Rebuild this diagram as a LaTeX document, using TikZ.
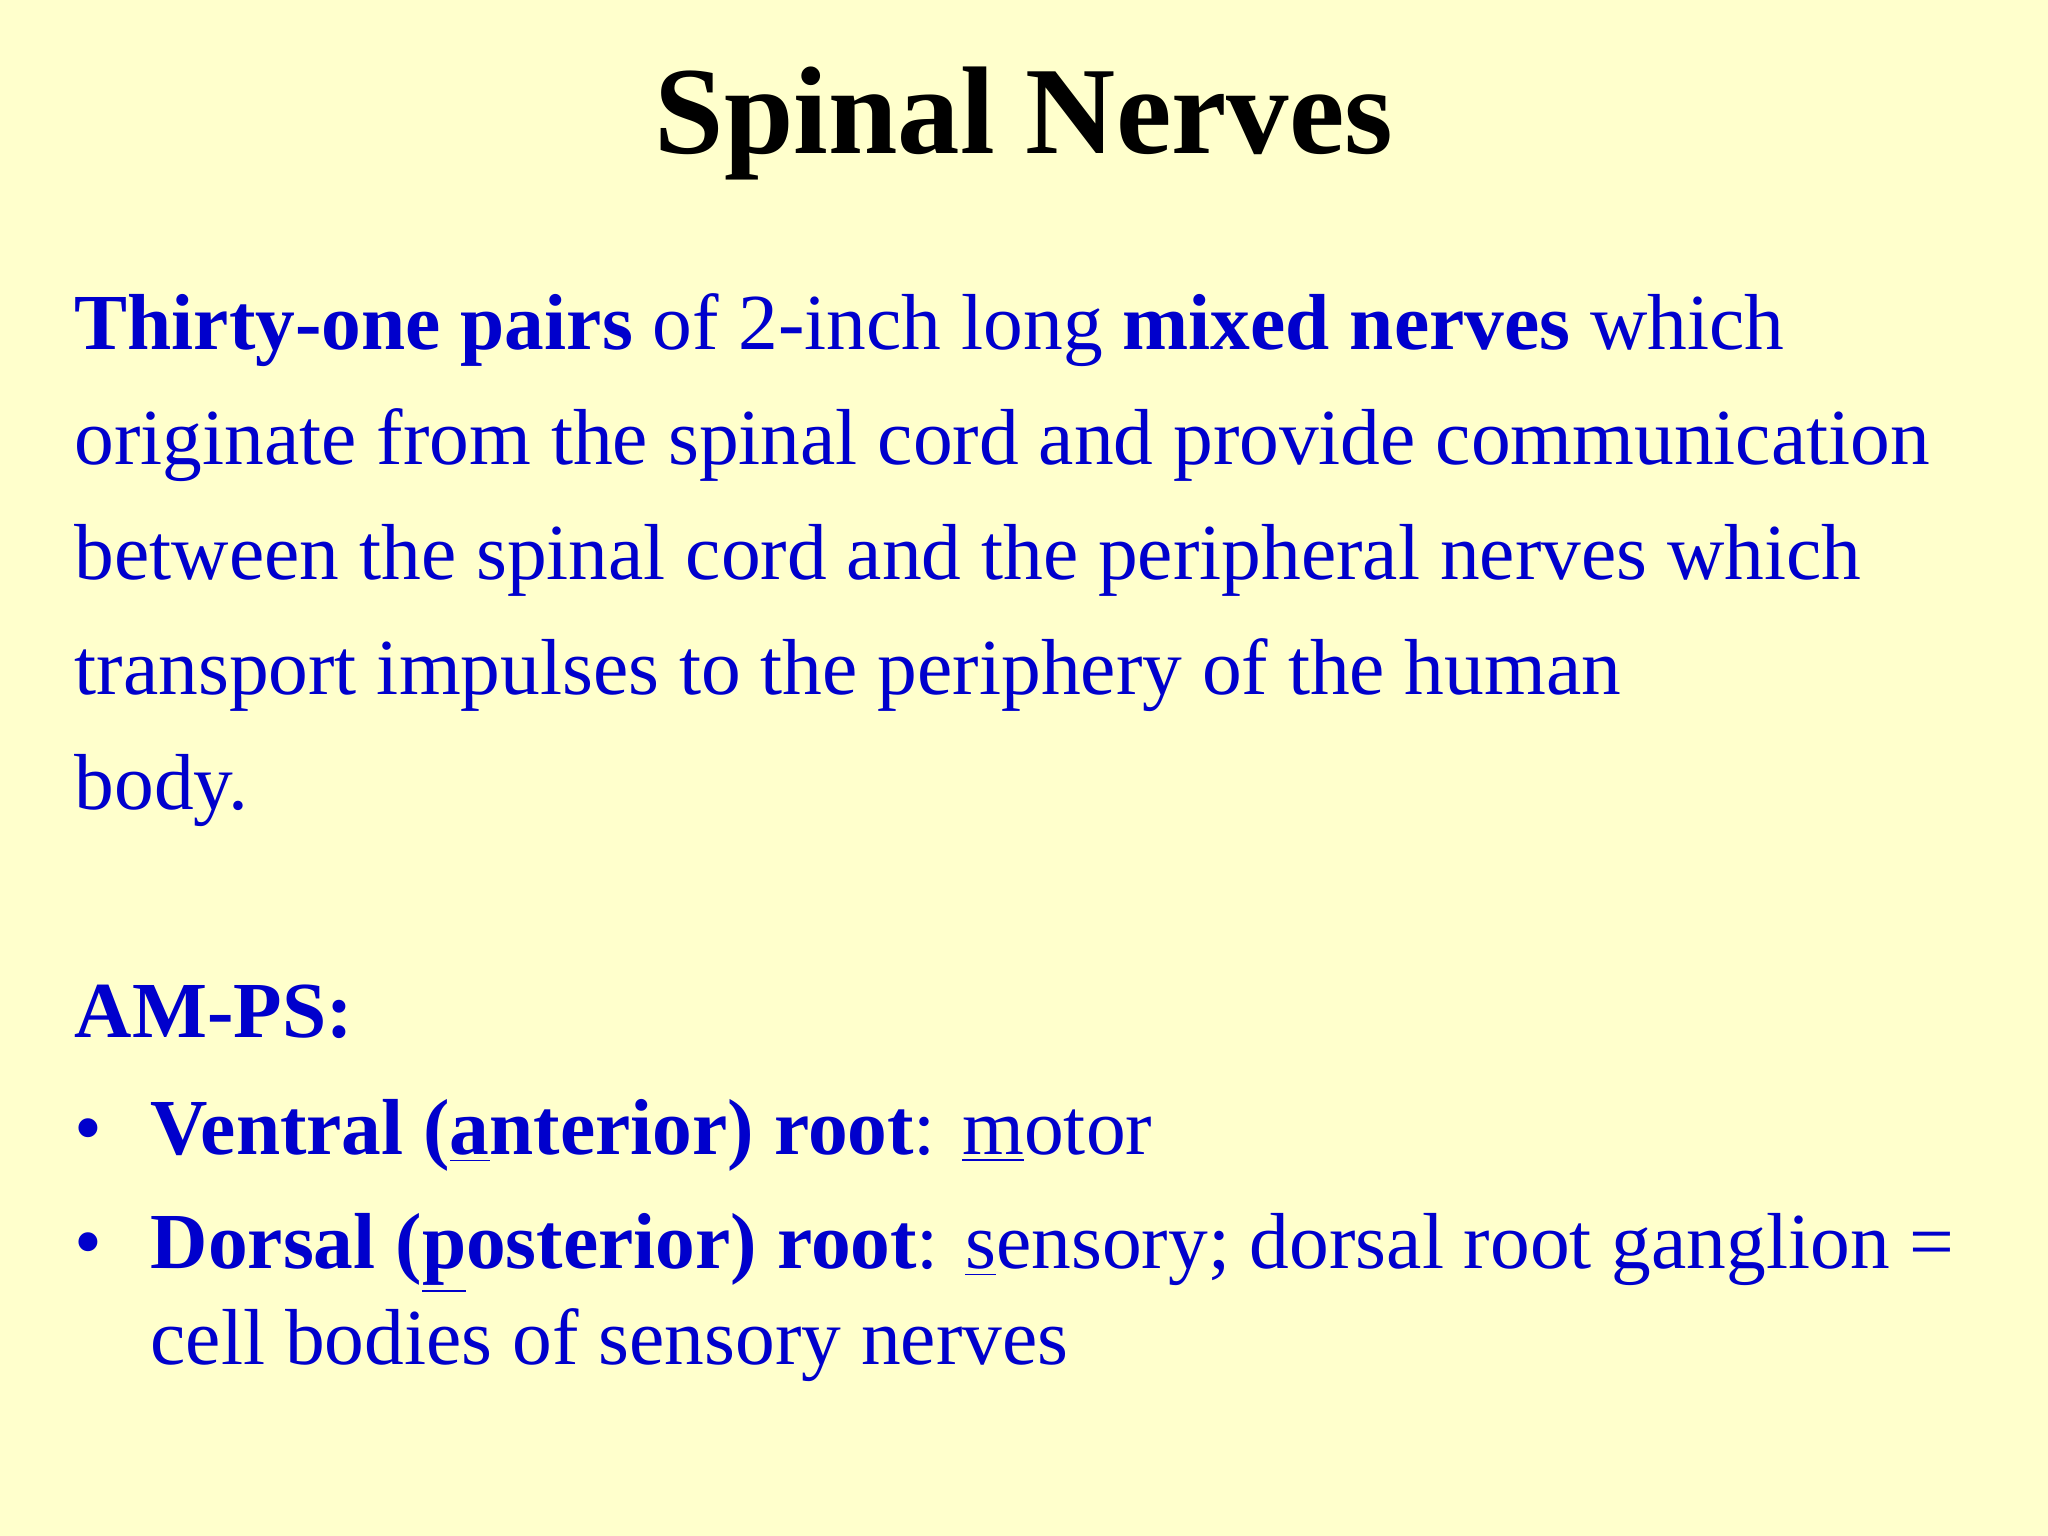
\documentclass[tikz,border=0pt]{standalone}
\usepackage{fontspec}
\setmainfont{Liberation Serif}
\definecolor{bg}{HTML}{FFFFCC}
\definecolor{tx}{HTML}{0000CC}
\begin{document}
\begin{tikzpicture}
\fill[bg] (0,0) rectangle (20.48,15.36);
\useasboundingbox (0,0) rectangle (20.48,15.36);
\tikzset{line/.style={anchor=base west,inner sep=0pt,text=tx,font=\fontsize{22.6}{27}\selectfont}}
\node[anchor=base,inner sep=0pt,font=\fontsize{35.5}{42}\selectfont\bfseries] (title) at (10.24,13.82) {Spinal Nerves};
\node[line] (l1) at (0.74,11.86) {\textbf{Thirty-one pairs} of 2-inch long \textbf{mixed nerves} which};
\node[line] (l2) at (0.74,10.71) {originate from the spinal cord and provide communication};
\node[line] (l3) at (0.74,9.56) {between the spinal cord and the peripheral nerves which};
\node[line] (l4) at (0.74,8.41) {transport impulses to the periphery of the human};
\node[line] (l5) at (0.74,7.26) {body.};
\node[line] (am) at (0.74,4.98) {\textbf{AM-PS:}};
\node[line] (b1) at (0.74,3.81) {•};
\node[line] (v) at (1.50,3.81) {\textbf{Ventral (\underline{a}nterior) root}: \underline{m}otor};
\node[line] (b2) at (0.74,2.67) {•};
\node[line] (d) at (1.50,2.67) {\textbf{Dorsal (\underline{p}osterior) root}: \underline{s}ensory; dorsal root ganglion =};
\node[line] (c) at (1.50,1.71) {cell bodies of sensory nerves};
\end{tikzpicture}
\end{document}
